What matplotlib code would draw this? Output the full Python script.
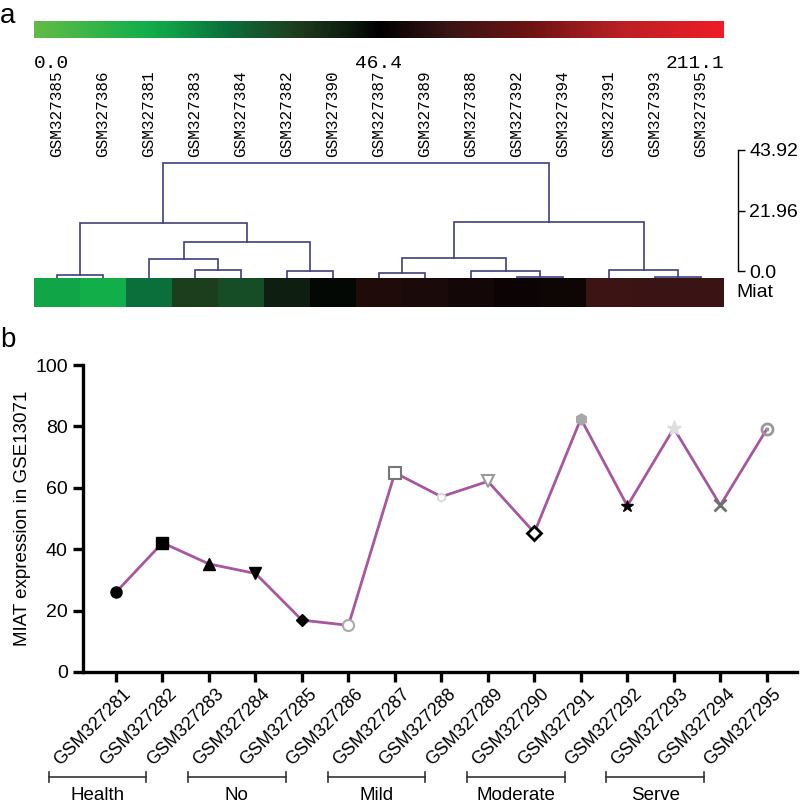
import numpy as np
import matplotlib
matplotlib.use("Agg")
import matplotlib.pyplot as plt
from matplotlib.colors import LinearSegmentedColormap, TwoSlopeNorm
from matplotlib.transforms import blended_transform_factory, ScaledTranslation

# ---- panel a data ----
heat_samples = ['GSM327385', 'GSM327386', 'GSM327381', 'GSM327383', 'GSM327384',
                'GSM327382', 'GSM327390', 'GSM327387', 'GSM327389', 'GSM327388',
                'GSM327392', 'GSM327394', 'GSM327391', 'GSM327393', 'GSM327395']
heat_values = [17, 15, 26, 35, 32, 42, 45, 65, 62, 57, 54, 55, 83, 80, 80]
cbar_ticks = [0.0, 46.4, 211.1]
# merges (left, right, height), leaves 0..14 in display order, new nodes from 15
merges = [(0, 1, 1.15), (3, 4, 3.06), (2, 16, 7.26), (5, 6, 2.67),
          (17, 18, 13.75), (15, 19, 21.0), (7, 8, 1.91), (10, 11, 0.38),
          (9, 22, 2.67), (21, 23, 7.64), (13, 14, 0.38), (12, 25, 3.06),
          (24, 26, 21.39), (20, 27, 43.92)]
scale_ticks = [0.0, 21.96, 43.92]

# ---- panel b data ----
samples = ['GSM3272%02d' % i for i in range(81, 96)]
miat = [26.0, 42.1, 35.2, 32.1, 16.9, 15.2, 64.9, 57.1, 62.1, 45.4,
        82.5, 54.1, 79.4, 54.3, 79.1]
groups = ['Health', 'No', 'Mild', 'Moderate', 'Serve']
group_start = [0, 3, 6, 9, 12]

W, H = 800, 807
fig = plt.figure(figsize=(W / 100, H / 100), dpi=100)


def rect(x0, y0, x1, y1):
    # pixel box (top-left origin) -> figure fraction
    return [x0 / W, 1 - y1 / H, (x1 - x0) / W, (y1 - y0) / H]


cmap = LinearSegmentedColormap.from_list('gkr', [
    (0.0, '#62bb46'), (0.16, '#12ae4a'), (0.2, '#0f9e47'), (0.28, '#0a6e3a'),
    (0.38, '#1e3c1c'), (0.453, '#0e1d10'), (0.5, '#000000'), (0.6, '#381414'),
    (0.72, '#6c1212'), (0.85, '#b82025'), (1.0, '#ee1c24')])
norm = TwoSlopeNorm(vmin=cbar_ticks[0], vcenter=cbar_ticks[1], vmax=cbar_ticks[2])

# colorbar
cax = fig.add_axes(rect(34, 21, 724, 38))
sm = plt.cm.ScalarMappable(norm=norm, cmap=cmap)
cb = fig.colorbar(sm, cax=cax, orientation='horizontal')
cb.outline.set_visible(False)
cb.set_ticks(cbar_ticks)
cb.set_ticklabels(['%.1f' % t for t in cbar_ticks])
cax.tick_params(length=0, pad=12, labelsize=14)
for lab in cax.get_xticklabels():
    lab.set_family('Liberation Mono')
labs = cax.get_xticklabels()
labs[0].set_ha('left')
labs[-1].set_ha('right')

# dendrogram
n = len(heat_samples)
ax_d = fig.add_axes(rect(34, 150, 724, 278))
ax_d.set_xlim(0, n)
ax_d.set_ylim(0, 48.9)
ax_d.axis('off')
pos = {i: (i + 0.5, 0.0) for i in range(n)}
for k, (a, b, h) in enumerate(merges):
    xa, ya = pos[a]
    xb, yb = pos[b]
    ax_d.plot([xa, xa, xb, xb], [ya, h, h, yb], color='#3f3f7c', lw=1.2,
              solid_joinstyle='miter')
    pos[n + k] = ((xa + xb) / 2, h)

tr = blended_transform_factory(ax_d.transData, fig.transFigure)
for i, s in enumerate(heat_samples):
    ax_d.text(i + 0.5, 1 - 157 / H, s, transform=tr, rotation=90, ha='center',
              va='bottom', fontsize=11.5, family='Liberation Mono')

# dendrogram scale
ax_s = fig.add_axes(rect(700, 150, 738, 271))
ax_s.set_ylim(0, 43.92)
for sp in ['left', 'top', 'bottom']:
    ax_s.spines[sp].set_visible(False)
ax_s.spines['right'].set_linewidth(1.0)
ax_s.patch.set_visible(False)
ax_s.set_xticks([])
ax_s.yaxis.tick_right()
ax_s.set_yticks(scale_ticks)
ax_s.set_yticklabels(['0.0', '21.96', '43.92'])
ax_s.tick_params(axis='y', length=5, width=1.0, pad=3, labelsize=14)
for lab in ax_s.get_yticklabels():
    lab.set_family('Liberation Sans')

# heatmap row
ax_h = fig.add_axes(rect(34, 278, 724, 307))
ax_h.pcolormesh(np.arange(n + 1), [0, 1], np.array([heat_values]),
                cmap=cmap, norm=norm, shading='flat')
ax_h.set_xlim(0, n)
ax_h.set_ylim(0, 1)
ax_h.axis('off')
ax_h.text(1.018, 0.5, 'Miat', transform=ax_h.transAxes, ha='left', va='center',
          fontsize=14, family='Liberation Sans')

fig.text(0.0, 1 - 3 / H, 'a', ha='left', va='top', fontsize=20, family='Liberation Sans')
fig.text(0.0, 1 - 327 / H, 'b', ha='left', va='top', fontsize=20, family='Liberation Sans')

# ---- panel b ----
ax = fig.add_axes(rect(83, 365, 797, 672))
x = np.arange(len(samples))
ax.plot(x, miat, color='#a8579e', lw=2, zorder=2)
marker_styles = [
    dict(marker='o', ms=8, mfc='k', mec='k'),
    dict(marker='s', ms=8, mfc='k', mec='k'),
    dict(marker='^', ms=8, mfc='k', mec='k'),
    dict(marker='v', ms=8, mfc='k', mec='k'),
    dict(marker='D', ms=6, mfc='k', mec='k'),
    dict(marker='o', ms=8, mfc='white', mec='#aaaaaa', mew=1.5),
    dict(marker='s', ms=9, mfc='white', mec='#777777', mew=1.5),
    dict(marker='h', ms=6, mfc='white', mec='#d8d8d8', mew=1.2),
    dict(marker='v', ms=9, mfc='white', mec='#999999', mew=1.5),
    dict(marker='D', ms=7, mfc='white', mec='k', mew=2),
    dict(marker='h', ms=8, mfc='#a8a8a8', mec='#a8a8a8'),
    dict(marker='*', ms=9, mfc='k', mec='k'),
    dict(marker='*', ms=11, mfc='#dedede', mec='#dedede'),
    dict(marker='x', ms=9, mec='#707070', mew=2),
    dict(marker='$\\odot$', ms=9, mfc='#999999', mec='#999999'),
]
for xi, yi, st in zip(x, miat, marker_styles):
    ax.plot([xi], [yi], ls='none', zorder=3, **st)

ax.set_xlim(-0.71, 14.65)
ax.set_ylim(0, 100)
ax.set_yticks(range(0, 101, 20))
ax.set_xticks(x)
ax.set_xticklabels(samples, rotation=45, rotation_mode='anchor', ha='right', va='center')
for sp in ['top', 'right']:
    ax.spines[sp].set_visible(False)
for sp in ['left', 'bottom']:
    ax.spines[sp].set_linewidth(2.4)
ax.tick_params(length=7, width=2.4, labelsize=14, pad=4)
ax.tick_params(axis='x', labelsize=13)
shift = ScaledTranslation(0.12, -0.04, fig.dpi_scale_trans)
for lab in ax.get_xticklabels():
    lab.set_transform(lab.get_transform() + shift)
for lab in ax.get_xticklabels() + ax.get_yticklabels():
    lab.set_family('Liberation Sans')
ax.set_ylabel('MIAT expression in GSE13071', fontsize=13.5, family='Liberation Sans',
              labelpad=3)

# group brackets
bt = blended_transform_factory(ax.transData, ax.transAxes)
yb, cap = -0.342, 0.016
for g, s0 in zip(groups, group_start):
    x0, x1 = s0 - 1.45, s0 + 0.65
    ax.plot([x0, x1], [yb, yb], color='#333333', lw=1.2, transform=bt, clip_on=False)
    for xe in (x0, x1):
        ax.plot([xe, xe], [yb - cap, yb + cap], color='#333333', lw=1.2,
                transform=bt, clip_on=False)
    ax.text((x0 + x1) / 2, -0.402, g, transform=bt, ha='center', va='center',
            fontsize=13.5, family='Liberation Sans')

fig.savefig('out.png', dpi=100)
